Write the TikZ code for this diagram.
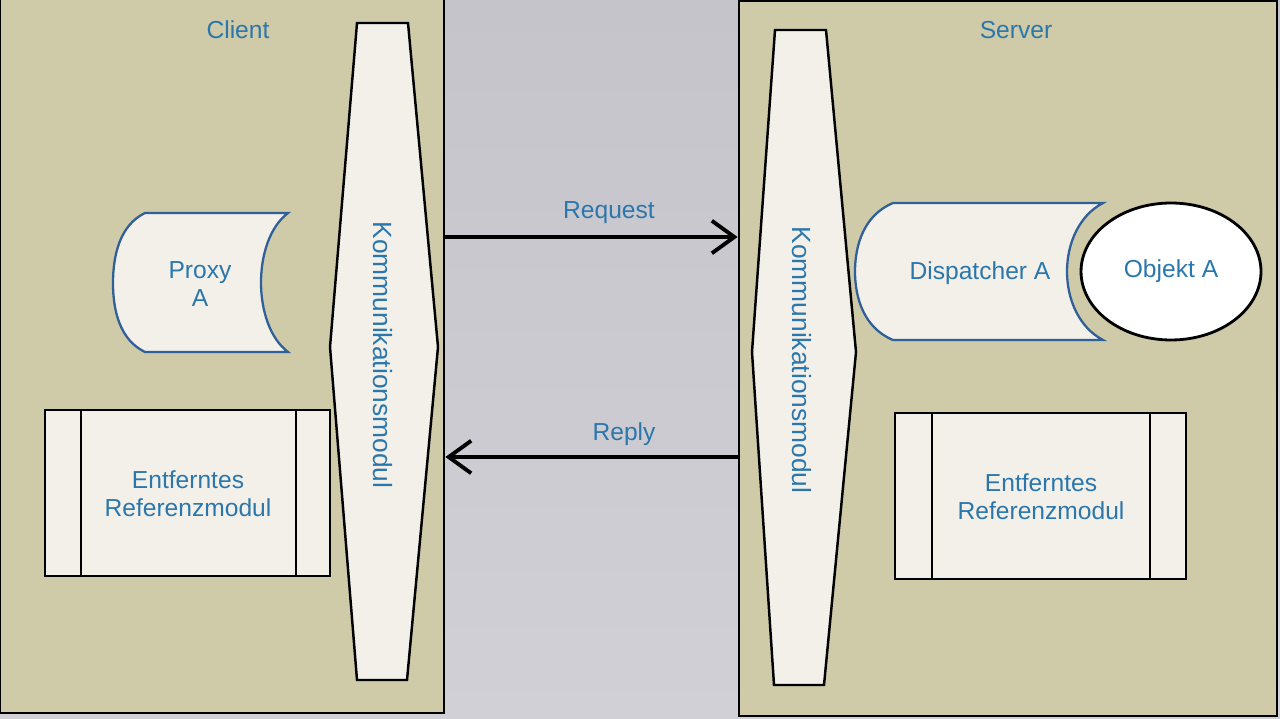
\documentclass[tikz,border=0pt]{standalone}
\usepackage{fontspec}
\setmainfont{Liberation Sans}
\usetikzlibrary{shapes.geometric, arrows.meta}
\definecolor{customKhaki}{HTML}{CFCAA8}
\definecolor{customLight}{HTML}{F2F0E9}
\definecolor{customBlue}{HTML}{2B77AC}
\definecolor{customDarkBlue}{HTML}{2F609A}
\definecolor{customGreyTop}{HTML}{C5C4CB}
\definecolor{customGreyBottom}{HTML}{D1D0D6}

\begin{document}
\begin{tikzpicture} [
    x=0.02cm, y=-0.02cm,
    hostBox/.style={rectangle, draw=black, fill=customKhaki, line width=1.6pt, inner sep=0pt},
    hostText/.style={text=customBlue, font=\fontsize{14}{16}\selectfont},
    moduleShape/.style={draw=black, fill=customLight, line width=1.4pt},
    moduleText/.style={text=customBlue, font=\fontsize{15}{17}\selectfont, rotate=-90},
    storedShape/.style={draw=customDarkBlue, fill=customLight, line width=1.3pt},
    plainText/.style={text=customBlue, font=\fontsize{14}{16}\selectfont, align=center},
    refBox/.style={rectangle, draw=black, fill=customLight, line width=1.4pt, inner sep=0pt, minimum height=3.32cm},
    objectNode/.style={ellipse, draw=black, fill=white, line width=1.6pt, inner sep=0pt, minimum width=3.6cm, minimum height=2.74cm},
    arrow/.style={line width=2pt, -{Straight Barb[length=4.5mm, width=6.5mm, line width=2.2pt]}}
]
    % background
    \useasboundingbox (0,0) rectangle (1280,719);
    \shade[top color=customGreyTop, bottom color=customGreyBottom] (0,0) rectangle (1280,719);

    % hosts
    \node[hostBox, minimum width=8.88cm, minimum height=14.28cm] (client) at (222,356) {};
    \node[hostBox, minimum width=10.76cm, minimum height=14.3cm] (server) at (1008,358.5) {};
    \node[hostText] (clientLabel) at (238,30) {Client};
    \node[hostText] (serverLabel) at (1016,30) {Server};

    % communication modules
    \draw[moduleShape] (357,23) -- (408,23) -- (438,347) -- (407,680) -- (357,680) -- (330,347) -- cycle;
    \draw[moduleShape] (775,30) -- (826,30) -- (856,352) -- (824,685) -- (774,685) -- (752,352) -- cycle;
    \node[moduleText] (clientKomm) at (383,355) {Kommunikationsmodul};
    \node[moduleText] (serverKomm) at (802,360) {Kommunikationsmodul};

    % proxy and dispatcher
    \draw[storedShape] (288,213) -- (145,213) .. controls (120,225) and (113,255) .. (113,283)
        .. controls (113,311) and (120,340) .. (145,352) -- (288,352)
        .. controls (252,325) and (252,240) .. (288,213) -- cycle;
    \node[plainText] (proxy) at (200,284) {Proxy\\A};
    \draw[storedShape] (1103,203) -- (893,203) .. controls (864,215) and (855,245) .. (855,271.5)
        .. controls (855,298) and (864,328) .. (893,340) -- (1103,340)
        .. controls (1055,315) and (1055,228) .. (1103,203) -- cycle;
    \node[plainText] (dispatcher) at (980,273) {Dispatcher A};
    \node[objectNode, plainText] (objekt) at (1171,271.5) {Objekt A};

    % remote reference modules
    \node[refBox, minimum width=5.7cm] (clientRef) at (187.5,493) {};
    \draw[line width=1.4pt] ([xshift=0.74cm]clientRef.north west) -- ([xshift=0.74cm]clientRef.south west);
    \draw[line width=1.4pt] ([xshift=-0.7cm]clientRef.north east) -- ([xshift=-0.7cm]clientRef.south east);
    \node[plainText] (clientRefText) at (188,494) {Entferntes\\Referenzmodul};
    \node[refBox, minimum width=5.82cm] (serverRef) at (1040.5,496) {};
    \draw[line width=1.4pt] ([xshift=0.76cm]serverRef.north west) -- ([xshift=0.76cm]serverRef.south west);
    \draw[line width=1.4pt] ([xshift=-0.74cm]serverRef.north east) -- ([xshift=-0.74cm]serverRef.south east);
    \node[plainText] (serverRefText) at (1041,497) {Entferntes\\Referenzmodul};

    % messages
    \coordinate (reqLevel) at (0,237);
    \coordinate (repLevel) at (0,457);
    \draw[arrow] (client.east |- reqLevel) -- (server.west |- reqLevel);
    \draw[arrow] (server.west |- repLevel) -- (client.east |- repLevel);
    \node[plainText] (request) at (609,213) {Request};
    \node[plainText] (reply) at (624,434) {Reply};
\end{tikzpicture}
\end{document}
